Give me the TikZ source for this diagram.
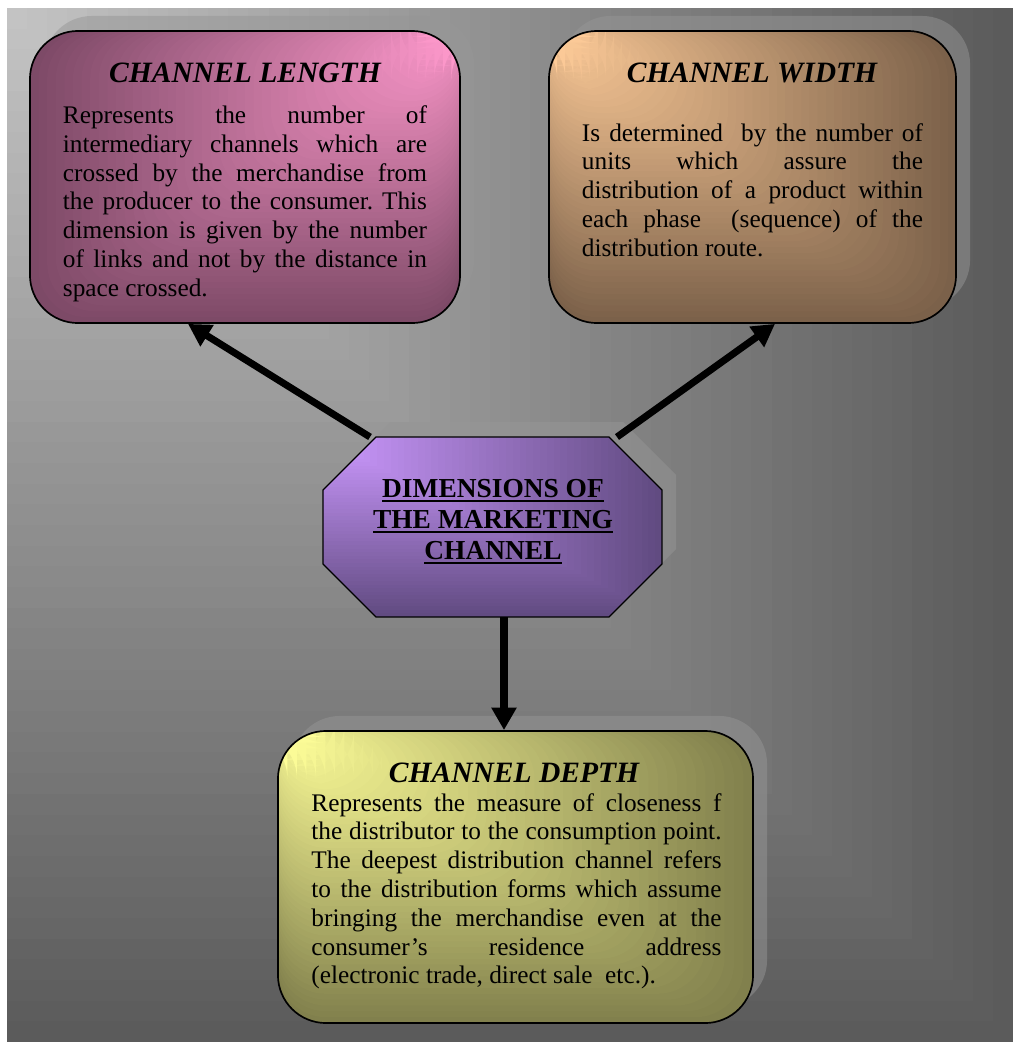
\documentclass[tikz,border=0pt]{standalone}
\usepackage{fontspec}
\setmainfont{Liberation Serif}
\usetikzlibrary{positioning}
\usetikzlibrary{shadows, arrows.meta, calc}
\frenchspacing
\hyphenpenalty=10000
\tolerance=10000
\hbadness=10000

\definecolor{bglight}{HTML}{C4C4C4}
\definecolor{bgdark}{HTML}{5A5A5A}
\definecolor{pinklight}{HTML}{FF99CC}
\definecolor{pinkdark}{HTML}{7C4966}
\definecolor{peachlight}{HTML}{FFCC99}
\definecolor{peachdark}{HTML}{7A6049}
\definecolor{lemonlight}{HTML}{FFFF99}
\definecolor{lemondark}{HTML}{807F4C}
\definecolor{violetlight}{HTML}{CC99FF}
\definecolor{violetdark}{HTML}{604A80}

\newcommand\dimrule[1]{\setbox0\hbox{#1}\rlap{\copy0}\rule[-3.4pt]{\wd0}{1.4pt}}

\tikzset{
  cornerfill/.style n args={4}{path picture={
    \foreach \k in {50,49,...,1}{
      \pgfmathsetmacro\mix{100-2*\k+1}
      \fill[#3!\mix!#4] (path picture bounding box.#1) rectangle ($(path picture bounding box.#1)!\k/50!(path picture bounding box.#2)$);
    }}},
  boxshadow/.style={drop shadow={shadow xshift=0.35cm, shadow yshift=0.375cm, fill=black!41, opacity=0.5}},
  dimbox/.style={rectangle, draw=black, line width=1.2pt, rounded corners=1.2cm, minimum width=#1, minimum height=7.3cm, boxshadow},
  headtext/.style={font=\fontsize{21}{25}\selectfont\bfseries\itshape, anchor=base, inner sep=0pt},
  bodytext/.style={font=\fontsize{18}{20.5}\selectfont, align=justify, text width=#1, anchor=base, inner sep=0pt},
  linkarrow/.style={line width=5pt, -{Triangle[width=17pt,length=16pt]}}
}

\begin{document}
\begin{tikzpicture}[x=0.025cm, y=-0.025cm]
\useasboundingbox (0,0) rectangle (1013,1042);
\fill[bgdark, cornerfill={north west}{south east}{bglight}{bgdark}] (7,8) rectangle (1013,1042);

\node[dimbox=10.75cm, cornerfill={north east}{south west}{pinklight}{pinkdark}] (len) at (245,177) {};
\node[dimbox=10.175cm, cornerfill={north west}{south east}{peachlight}{peachdark}] (wid) at (752.5,177) {};
\node[dimbox=11.875cm, cornerfill={north west}{south east}{lemonlight}{lemondark}] (dep) at (515.5,877) {};

% octagon
\draw[black, line width=0.8pt, boxshadow, cornerfill={north west}{south east}{violetlight}{violetdark}]
  (376,437) -- (609,437) -- (662,490) -- (662,564) -- (609,617) -- (376,617) -- (323,564) -- (323,490) -- cycle;
\coordinate (dimleft) at (370,437);
\coordinate (dimright) at (617,437);
\coordinate (dimbottom) at (504,617);

\node[headtext] (lenhead) at (245,82) {CHANNEL LENGTH};
\node[bodytext=9.1cm] (lentext) at (245,123.5) {Represents the number of\linebreak
intermediary channels which are\linebreak crossed by the merchandise from\linebreak
the producer to the consumer. This\linebreak dimension is given by the number\linebreak
of links and not by the distance in\linebreak space crossed.};

\node[headtext] (widhead) at (752,82) {CHANNEL WIDTH};
\node[bodytext=8.525cm] (widtext) at (752.5,141) {Is determined~ by the number of\linebreak
units which assure the\linebreak distribution of a product within\linebreak
each phase~ (sequence) of the\linebreak distribution route.};

\node[headtext] (dephead) at (514,782) {CHANNEL DEPTH};
\node[bodytext=10.25cm] (deptext) at (516.5,811) {Represents the measure of closeness f\linebreak
the distributor to the consumption point.\linebreak The deepest distribution channel refers\linebreak
to the distribution forms which assume\linebreak bringing the merchandise even at the\linebreak
consumer's residence address\linebreak (electronic trade, direct sale~ etc.).};

\node[font=\fontsize{19.5}{22}\selectfont\bfseries, align=center, anchor=base, inner sep=0pt] (dim) at (493,559)
  {\dimrule{DIMENSIONS OF}\\\dimrule{THE MARKETING}\\\dimrule{CHANNEL}};

\draw[linkarrow] (dimleft) -- ([xshift=-1.425cm]len.south);
\draw[linkarrow] (dimright) -- ([xshift=0.5625cm]wid.south);
\draw[linkarrow] (dimbottom) -- (dimbottom |- dep.north);

\end{tikzpicture}
\end{document}
